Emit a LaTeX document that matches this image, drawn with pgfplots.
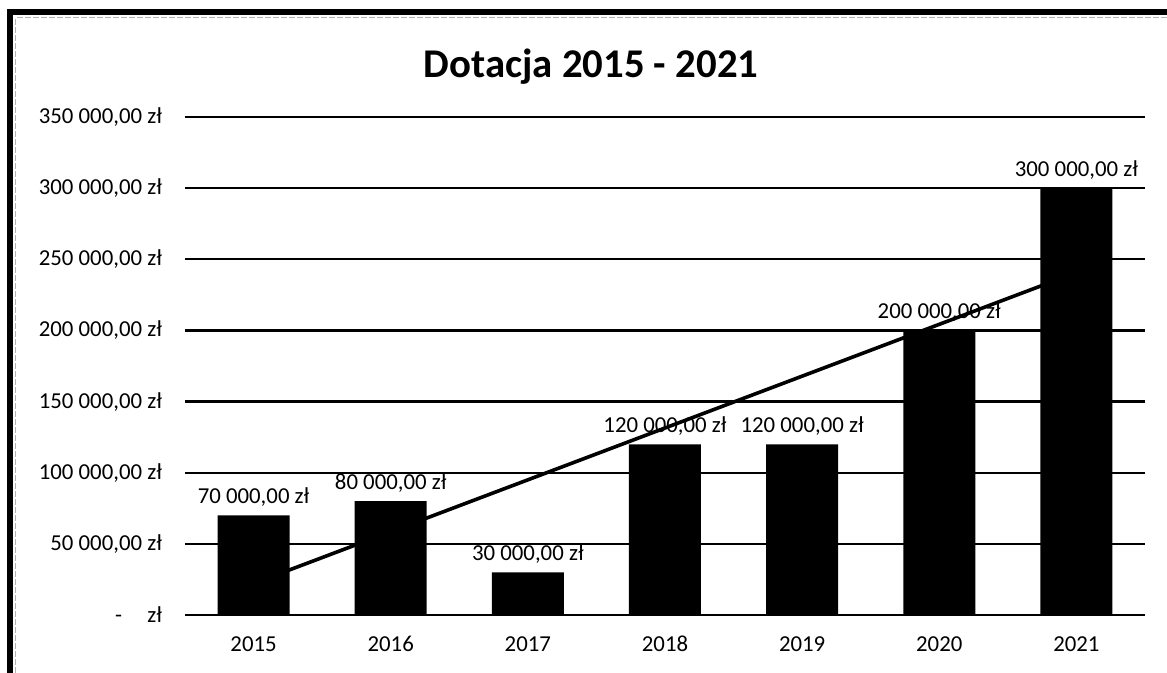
\documentclass[border=0pt]{standalone}
\usepackage{pgfplots}
\pgfplotsset{compat=1.18}
\usepackage{fontspec}
\setmainfont{Carlito}
\begin{document}
\begin{tikzpicture}
\useasboundingbox (0,0) rectangle (583.5pt,-336.5pt);
\fill[white] (0,0) rectangle (583.5pt,-336.5pt);
% frame
\draw[black, line width=3pt, line join=miter] (5pt,-340pt) -- (5pt,-6pt) -- (590pt,-6pt);
\draw[gray!60, line width=0.5pt, dash pattern=on 3pt off 1pt] (7.8pt,-336.5pt) -- (7.8pt,-9pt) -- (583.5pt,-9pt);
% title
\node[font=\fontsize{20.4}{24}\selectfont\bfseries] at (295.5pt,-33.5pt) {Dotacja 2015 - 2021};
\begin{axis}[
  at={(92.5pt,-307.5pt)}, anchor=south west,
  scale only axis, width=480pt, height=249pt,
  xmin=-0.5, xmax=6.5, ymin=0, ymax=350000,
  /pgf/number format/assume math mode=true,
  scaled y ticks=false,
  axis line style={draw=none},
  tick style={draw=none},
  ymajorgrids,
  grid style={black, line width=1.2pt},
  xtick={0,1,2,3,4,5,6},
  xticklabels={2015,2016,2017,2018,2019,2020,2021},
  ytick={0,50000,100000,150000,200000,250000,300000,350000},
  yticklabels={{-\hspace{1.1em}zł},{50 000,00 zł},{100 000,00 zł},{150 000,00 zł},{200 000,00 zł},{250 000,00 zł},{300 000,00 zł},{350 000,00 zł}},
  ticklabel style={font=\fontsize{11.4}{13}\selectfont},
  yticklabel style={xshift=-8pt},
  xticklabel style={yshift=-7pt, text height=7.5pt, text depth=0pt},
  clip=false,
]
\addplot[black, line width=1.8pt] coordinates {(0,22143) (6,240714)};
\addplot[ybar, bar width=36pt, fill=black, draw=none,
  nodes near coords={\pgfmathprintnumber[fixed,fixed zerofill,precision=2,use comma,1000 sep={\ }]{\pgfplotspointmeta}~zł},
  every node near coord/.append style={font=\fontsize{11.4}{13}\selectfont, black, yshift=1pt}]
  coordinates {(0,70000) (1,80000) (2,30000) (3,120000) (4,120000) (5,200000) (6,300000)};
\end{axis}
\end{tikzpicture}
\end{document}
